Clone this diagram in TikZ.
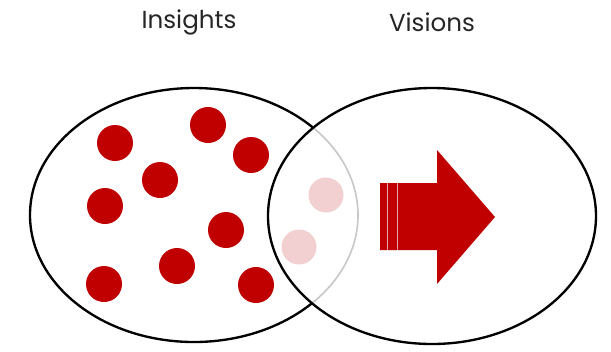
\documentclass[tikz,border=0pt]{standalone}
\usepackage{fontspec}
\setmainfont{Poppins}
\usepackage{tikz}
\usetikzlibrary{shapes, calc}
\definecolor{darkred}{HTML}{C00000}
\definecolor{ghostred}{HTML}{F2CFD1}
\definecolor{ghostline}{HTML}{C8C8C8}
\setlength{\unitlength}{0.03cm}
\tikzstyle{insight} = [circle, fill=darkred, minimum size=36\unitlength, inner sep=0pt]
\tikzstyle{ghost} = [circle, fill=ghostred, minimum size=35\unitlength, inner sep=0pt]
\tikzstyle{title} = [font=\fontsize{21}{24}\selectfont, text=black!85]
\tikzstyle{rim} = [draw, line width=2pt]

\begin{document}
\begin{tikzpicture}[x=0.03cm, y=-0.03cm]
    \useasboundingbox (0,0) rectangle (611,351);

    % Titles
    \node [title] (insights) at (189,22) {Insights};
    \node [title] (visions) at (432,22) {Visions};

    % Ellipses
    \begin{scope}
        \clip (0,0) rectangle (611,351) (432,216) ellipse (164 and 128);
        \draw [rim] (194,215) ellipse (164 and 127);
    \end{scope}
    \begin{scope}
        \clip (432,216) ellipse (164 and 128);
        \draw [rim, ghostline, line width=1.4pt] (194,215) ellipse (164 and 127);
    \end{scope}
    \draw [rim] (432,216) ellipse (164 and 128);

    % Insights
    \node [insight] (i1) at (115,143) {};
    \node [insight] (i2) at (208,125) {};
    \node [insight] (i3) at (251,155) {};
    \node [insight] (i4) at (160,180) {};
    \node [insight] (i5) at (105,206) {};
    \node [insight] (i6) at (226,230) {};
    \node [insight] (i7) at (177,266) {};
    \node [insight] (i8) at (104,284) {};
    \node [insight] (i9) at (256,285) {};
    \node [ghost] (g1) at (326,195) {};
    \node [ghost] (g2) at (299,247) {};

    % Arrow
    \fill [darkred] (380,183) -- (437,183) -- (437,150) -- (495,217) --
          (437,284) -- (437,250) -- (380,250) -- cycle;
    \draw [ghostred!80!darkred, line width=0.6pt] (387,183) -- (387,250);
    \draw [ghostred!80!darkred, line width=0.6pt] (397,183) -- (397,250);
\end{tikzpicture}
\end{document}
